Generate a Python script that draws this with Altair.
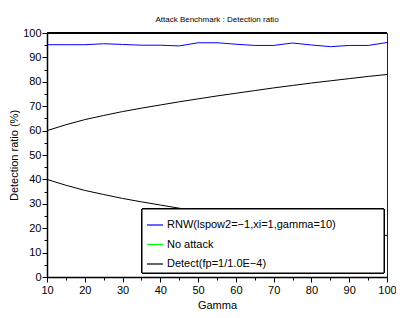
import altair as alt
import pandas as pd

gamma = [10, 15, 20, 25, 30, 35, 40, 45, 50, 55, 60, 65, 70, 75, 80, 85, 90, 95, 100]
rnw = [95.2, 95.2, 95.2, 95.6, 95.3, 95.0, 95.0, 94.7, 96.0, 96.0, 95.4, 94.9, 94.9, 95.9, 95.1, 94.4, 94.9, 94.9, 96.1]
no_attack = [100] * 19
detect_upper = [60, 62.4, 64.5, 66.2, 67.8, 69.2, 70.5, 71.8, 73.0, 74.2, 75.3, 76.4, 77.5, 78.5, 79.5, 80.4, 81.3, 82.2, 83.0]
detect_lower = [40, 37.6, 35.5, 33.8, 32.2, 30.8, 29.5, 28.2, 27.0, 25.8, 24.7, 23.6, 22.5, 21.5, 20.5, 19.6, 18.7, 17.8, 17.0]

series_names = ["RNW(lspow2=\u22121,xi=1,gamma=10)", "No attack", "Detect(fp=1/1.0E\u22124)"]
series_colors = ["#0000ff", "#00ff00", "#000000"]

rows = []
for g, v in zip(gamma, rnw):
    rows.append({"gamma": g, "value": v, "series": series_names[0], "curve": "a"})
for g, v in zip(gamma, no_attack):
    rows.append({"gamma": g, "value": v, "series": series_names[1], "curve": "b"})
for g, v in zip(gamma, detect_upper):
    rows.append({"gamma": g, "value": v, "series": series_names[2], "curve": "c"})
for g, v in zip(gamma, detect_lower):
    rows.append({"gamma": g, "value": v, "series": series_names[2], "curve": "d"})
df = pd.DataFrame(rows)

FONT = "Liberation Sans"
W, H = 340, 244
PL = 39

tick_cond = {"condition": {"test": "datum.value % 10 === 0", "value": 5}, "value": 3}

lines = alt.Chart(df).mark_line(strokeWidth=1, clip=False).encode(
    x=alt.X("gamma:Q", scale=alt.Scale(domain=[10, 100], nice=False),
            axis=alt.Axis(title="Gamma", values=list(range(10, 101, 5)),
                          labelExpr="datum.value % 10 === 0 ? datum.label : ''",
                          tickSize=tick_cond, labelFlush=False, labelOverlap=False,
                          grid=False, domainWidth=1.5, domainColor="black",
                          tickColor="black", labelPadding=2, titlePadding=4)),
    y=alt.Y("value:Q", scale=alt.Scale(domain=[0, 100], nice=False),
            axis=alt.Axis(title="Detection ratio (%)", values=list(range(0, 101, 5)),
                          labelExpr="datum.value % 10 === 0 ? datum.label : ''",
                          tickSize=tick_cond, labelOverlap=False, grid=False,
                          domainWidth=1.5, domainColor="black", tickColor="black",
                          labelPadding=1, titlePadding=3)),
    color=alt.Color("series:N", scale=alt.Scale(domain=series_names, range=series_colors),
                    sort=series_names,
                    legend=alt.Legend(title=None, orient="none", legendX=99, legendY=183,
                                      symbolType="stroke", symbolSize=256,
                                      symbolStrokeWidth=1.2, labelOffset=3,
                                      labelFontSize=11, labelFont=FONT, labelColor="black",
                                      labelLimit=400, rowPadding=5.5, padding=0)),
    detail="curve:N",
    order="gamma:Q",
)

box = alt.Chart(df).mark_rect(fill="white", stroke="black", strokeWidth=1).encode(
    x=alt.value(95), x2=alt.value(337), y=alt.value(176), y2=alt.value(240)
)

top_frame = alt.Chart(df).mark_rule(color="black", opacity=0.4, strokeWidth=1).encode(
    x=alt.value(0), x2=alt.value(W), y=alt.value(0)
)

chart = alt.layer(lines, box, top_frame).properties(
    width=W, height=H,
    title=alt.Title("Attack Benchmark : Detection ratio", fontSize=8, font=FONT,
                    fontWeight="normal", color="black", offset=3),
    autosize=alt.AutoSizeParams(type="none"),
    padding={"left": PL, "top": 25, "right": 388 - PL - W, "bottom": 33},
).configure_view(stroke="#222222", strokeWidth=1).configure_axis(
    labelFont=FONT, titleFont=FONT, labelFontSize=11, titleFontSize=11,
    labelColor="black", titleColor="black", titleFontWeight="normal"
)

chart.save("out.html", embed_options={"renderer": "svg", "actions": False})
